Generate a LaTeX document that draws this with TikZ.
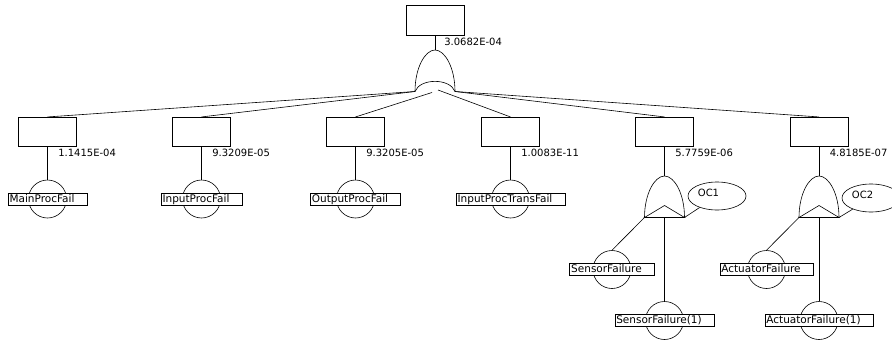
\documentclass[tikz,border=0pt]{standalone}
\usepackage{fontspec}
\setmainfont{DejaVu Sans}
\usetikzlibrary{shapes.geometric}

\begin{document}
\begin{tikzpicture}[x=1pt,y=-1pt,line width=0.6pt]
  \tikzset{
    evbox/.style={draw,minimum width=58pt,minimum height=29.5pt,inner sep=0pt},
    prob/.style={anchor=west,inner sep=0pt},
    basic/.style={draw,circle,minimum size=38pt,inner sep=0pt},
    evname/.style={draw,fill=white,inner xsep=1.5pt,inner ysep=1pt,text height=8pt,text depth=2pt,
      font=\fontsize{10.5}{12}\selectfont},
    cond/.style={draw,ellipse,minimum width=58pt,minimum height=28pt,inner sep=0pt,text height=7.3pt,text depth=7.3pt}}
  \def\gw{20}
  \def\gh{41.5}
  \newcommand{\orgate}[3]{% name, x, y of the apex
    \coordinate (#1-out) at (#2,#3);
    \coordinate (#1-l) at (#2-\gw,#3+\gh);
    \coordinate (#1-r) at (#2+\gw,#3+\gh);
    \coordinate (#1-c) at (#2,#3+\gh);
    \draw (#1-l) .. controls (#2-\gw,#3+18) and (#2-10,#3) .. (#1-out)
      .. controls (#2+10,#3) and (#2+\gw,#3+18) .. (#1-r);}
  \newcommand{\basicev}[4]{% name, x, y, label
    \node[basic] (#1) at (#2,#3) {};
    \node[evname] (#1-name) at (#1) {#4\kern11pt};}
  \clip (0,0) rectangle (892,343);

  % top event
  \node[evbox] (top) at (435,20.5) {};
  \node[prob] (ptop) at (444,41.5) {3.0682E-04};
  \orgate{g0}{435}{50}
  \draw (g0-l) .. controls (420,78) and (450,78) .. (g0-r);
  \coordinate (g0-cl) at (432,92.5);
  \coordinate (g0-cr) at (438,90);
  \draw (top.south) -- (g0-out);

  % intermediate events
  \node[evbox] (b1) at (47.5,132) {};
  \node[evbox] (b2) at (201.5,132) {};
  \node[evbox] (b3) at (355.5,132) {};
  \node[evbox] (b4) at (510.5,132) {};
  \node[evbox] (b5) at (664.5,132) {};
  \node[evbox] (b6) at (819,132) {};
  \node[prob] (p1) at (58,152.7) {1.1415E-04};
  \node[prob] (p2) at (212,152.7) {9.3209E-05};
  \node[prob] (p3) at (366,152.7) {9.3205E-05};
  \node[prob] (p4) at (521,152.7) {1.0083E-11};
  \node[prob] (p5) at (675,152.7) {5.7759E-06};
  \node[prob] (p6) at (829.5,152.7) {4.8185E-07};
  \draw (g0-l) -- (b1.north);
  \draw (g0-l) -- (b2.north);
  \draw (g0-cl) -- (b3.north);
  \draw (g0-cr) -- (b4.north);
  \draw (g0-r) -- (b5.north);
  \draw (g0-r) -- (b6.north);

  % basic events under the first four
  \basicev{e1}{47.5}{199}{MainProcFail}
  \basicev{e2}{201.5}{199}{InputProcFail}
  \basicev{e3}{355.5}{199}{OutputProcFail}
  \basicev{e4}{510.5}{199}{InputProcTransFail}
  \foreach \i in {1,2,3,4}
    \draw (b\i) -- (e\i);

  % sensors
  \orgate{g5}{664.5}{176}
  \draw (g5-l) -- ++(20,-12) -- (g5-r) -- cycle;
  \node[cond] (oc1) at (717,196) {OC1\kern17pt};
  \basicev{e5}{612}{269.5}{SensorFailure}
  \basicev{e6}{664.5}{320.5}{SensorFailure(1)}
  \draw (b5) -- (g5-out);
  \draw (g5-l) -- (e5.north);
  \draw (g5-c) -- (e6);
  \draw (g5-r) -- (oc1);

  % actuators
  \orgate{g6}{819}{176}
  \draw (g6-l) -- ++(20,-12) -- (g6-r) -- cycle;
  \node[cond] (oc2) at (871,198) {OC2\kern17pt};
  \basicev{e7}{766.5}{269.5}{ActuatorFailure}
  \basicev{e8}{819}{320.5}{ActuatorFailure(1)}
  \draw (b6) -- (g6-out);
  \draw (g6-l) -- (e7.north);
  \draw (g6-c) -- (e8);
  \draw (g6-r) -- (oc2);
\end{tikzpicture}
\end{document}
